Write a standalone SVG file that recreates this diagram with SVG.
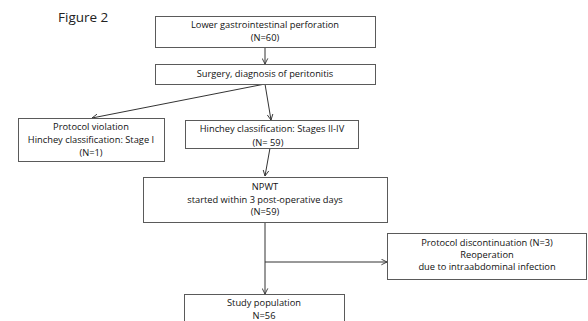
<svg xmlns="http://www.w3.org/2000/svg" width="588" height="321" viewBox="0 0 588 321">
<style>
.box{fill:#fff;stroke:#5a5a5a;stroke-width:1}
.t{font-family:"Open Sans","Liberation Sans",sans-serif;font-size:9.3px;fill:#111;text-anchor:middle}
.c{fill:none;stroke:#333;stroke-width:1}
</style>
<defs>
<marker id="ah" viewBox="0 0 10 10" refX="9" refY="5" markerWidth="7" markerHeight="7" orient="auto" markerUnits="userSpaceOnUse">
<path d="M1,1 L9,5 L1,9" fill="none" stroke="#333" stroke-width="1.3"/>
</marker>
</defs>
<rect width="588" height="321" fill="#fff"/>
<text x="58" y="22" style="font-family:'Open Sans','Liberation Sans',sans-serif;font-size:13.5px;fill:#222">Figure 2</text>
<g id="connectors">
<line class="c" x1="265" y1="47" x2="265" y2="64" marker-end="url(#ah)"/>
<line class="c" x1="265" y1="84" x2="92" y2="118" marker-end="url(#ah)"/>
<line class="c" x1="265" y1="84" x2="271" y2="120" marker-end="url(#ah)"/>
<line class="c" x1="270" y1="148" x2="265" y2="176" marker-end="url(#ah)"/>
<line class="c" x1="265" y1="222" x2="265" y2="294" marker-end="url(#ah)"/>
<line class="c" x1="265" y1="262" x2="387" y2="262" marker-end="url(#ah)"/>
</g>
<g id="n1"><rect class="box" x="155.5" y="16.5" width="220" height="31"/>
<text class="t" x="265" y="28">Lower gastrointestinal perforation</text>
<text class="t" x="265" y="41">(N=60)</text></g>
<g id="n2"><rect class="box" x="155.5" y="64.5" width="220" height="20"/>
<text class="t" x="265" y="77">Surgery, diagnosis of peritonitis</text></g>
<g id="n3"><rect class="box" x="18.5" y="118.5" width="146" height="43"/>
<text class="t" x="91" y="130">Protocol violation</text>
<text class="t" x="91" y="143">Hinchey classification: Stage I</text>
<text class="t" x="91" y="156">(N=1)</text></g>
<g id="n4"><rect class="box" x="185.5" y="120.5" width="173" height="28"/>
<text class="t" x="272" y="132">Hinchey classification: Stages II-IV</text>
<text class="t" x="268" y="146">(N= 59)</text></g>
<g id="n5"><rect class="box" x="143.5" y="177.5" width="244" height="45"/>
<text class="t" x="265" y="190">NPWT</text>
<text class="t" x="265" y="203">started within 3 post-operative days</text>
<text class="t" x="265" y="215">(N=59)</text></g>
<g id="n6"><rect class="box" x="387.5" y="233.5" width="199" height="46"/>
<text class="t" x="487" y="246">Protocol discontinuation (N=3)</text>
<text class="t" x="487" y="258">Reoperation</text>
<text class="t" x="487" y="270">due to intraabdominal infection</text></g>
<g id="n7"><rect class="box" x="184.5" y="294.5" width="160" height="40"/>
<text class="t" x="264" y="306">Study population</text>
<text class="t" x="264" y="319">N=56</text></g>
</svg>
